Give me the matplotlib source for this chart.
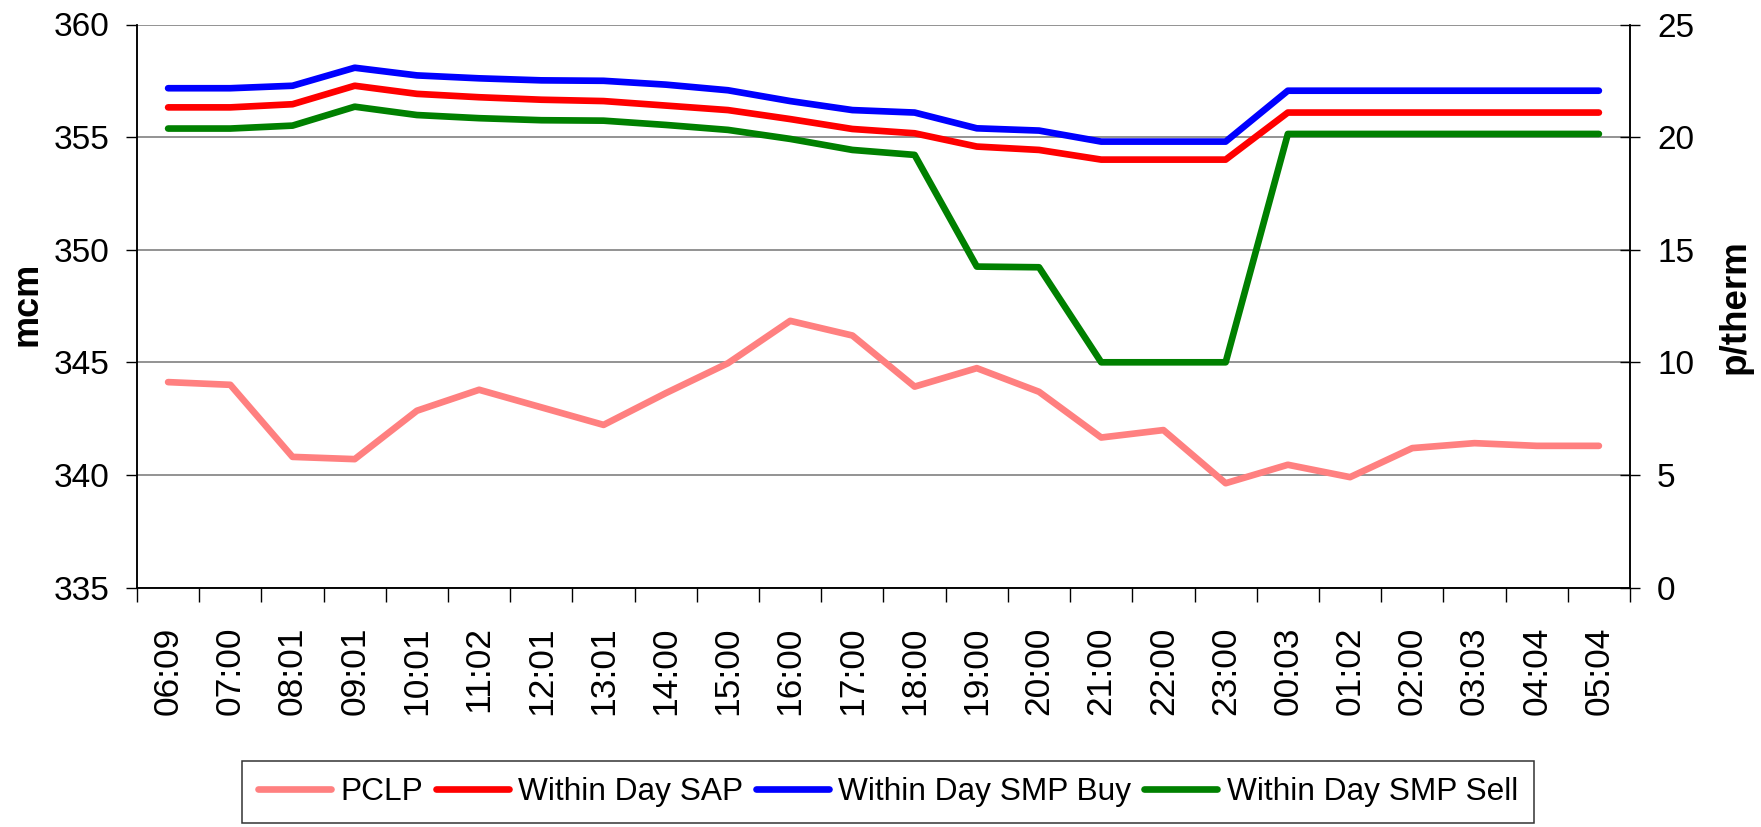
import numpy as np
import matplotlib
matplotlib.use('Agg')
import matplotlib.pyplot as plt

plt.rcParams['font.family'] = ['Liberation Sans', 'DejaVu Sans']

# time labels
times = ['06:09', '07:00', '08:01', '09:01', '10:01', '11:02', '12:01', '13:01',
         '14:00', '15:00', '16:00', '17:00', '18:00', '19:00', '20:00', '21:00',
         '22:00', '23:00', '00:03', '01:02', '02:00', '03:03', '04:04', '05:04']

# projected closing linepack (mcm, left axis)
pclp = [344.12, 344.0, 340.8, 340.7, 342.85, 343.78, 343.0, 342.22, 343.63, 344.96,
        346.84, 346.19, 343.92, 344.74, 343.69, 341.66, 341.99, 339.63, 340.45, 339.9,
        341.19, 341.41, 341.29, 341.29]

# prices (p/therm, right axis)
sap = [21.32, 21.32, 21.46, 22.28, 21.92, 21.77, 21.66, 21.6, 21.4, 21.2,
       20.8, 20.36, 20.17, 19.58, 19.43, 19.0, 19.0, 19.0, 21.09, 21.09,
       21.09, 21.09, 21.09, 21.09]
smp_buy = [22.17, 22.17, 22.28, 23.08, 22.74, 22.61, 22.52, 22.5, 22.33, 22.08,
           21.6, 21.2, 21.09, 20.39, 20.29, 19.8, 19.8, 19.8, 22.06, 22.06,
           22.06, 22.06, 22.06, 22.06]
smp_sell = [20.38, 20.38, 20.51, 21.35, 20.98, 20.84, 20.75, 20.73, 20.54, 20.32,
            19.92, 19.43, 19.21, 14.25, 14.22, 10.0, 10.0, 10.0, 20.14, 20.14,
            20.14, 20.14, 20.14, 20.14]

W, H = 1761, 827
fig = plt.figure(figsize=(W / 100, H / 100), dpi=100)
ax = fig.add_axes([137 / W, 1 - 587.5 / H, (1630 - 137) / W, (587.5 - 24.5) / H])
ax2 = ax.twinx()

x = np.arange(len(times))
lw = 4.8
kw = dict(lw=lw, solid_capstyle='round', solid_joinstyle='round')
l1, = ax.plot(x, pclp, color='#FF8080', label='PCLP', **kw)
l2, = ax2.plot(x, sap, color='#FF0000', label='Within Day SAP', **kw)
l3, = ax2.plot(x, smp_buy, color='#0000FF', label='Within Day SMP Buy', **kw)
l4, = ax2.plot(x, smp_sell, color='#008000', label='Within Day SMP Sell', **kw)

ax.set_xlim(-0.5, len(times) - 0.5)
ax.set_ylim(335, 360)
ax2.set_ylim(0, 25)
ax.set_yticks(np.arange(335, 361, 5))
ax2.set_yticks(np.arange(0, 26, 5))

# category labels at centres, tick marks between categories
ax.set_xticks(x)
ax.set_xticklabels(times, rotation=90, fontsize=25.5)
ax.set_xticks(np.arange(-0.5, len(times), 1), minor=True)
ax.tick_params(axis='x', which='major', length=0, pad=28)
ax.tick_params(axis='x', which='minor', length=10, width=1, direction='out')

ax.tick_params(axis='y', labelsize=24, length=8, width=1, direction='out', pad=11.5)
ax2.tick_params(axis='y', labelsize=24, length=15, width=1, direction='inout', pad=12)

ax.yaxis.grid(True, color='#808080', lw=1.2)
ax.set_axisbelow(True)

for a in (ax, ax2):
    a.spines['top'].set_visible(False)
    for s in ('left', 'right', 'bottom'):
        a.spines[s].set_color('black')
        a.spines[s].set_linewidth(1.1)

fig.text(27 / W, 1 - 304 / H, 'mcm', rotation=90, ha='center', va='center',
         fontsize=26, fontweight='bold')
fig.text(1735 / W, 1 - 307 / H, 'p/therm', rotation=90, ha='center', va='center',
         fontsize=26.5, fontweight='bold')

leg = fig.legend([l1, l2, l3, l4], [l.get_label() for l in (l1, l2, l3, l4)],
                 loc='upper center', bbox_to_anchor=(888 / W, 1 - 761 / H), ncol=4,
                 fontsize=22.8, handlelength=2.3, handletextpad=0.3, columnspacing=0.4,
                 frameon=True, fancybox=False, edgecolor='black', borderaxespad=0,
                 borderpad=0.5)
leg.get_frame().set_linewidth(1.1)

fig.savefig('out.png', dpi=100)
